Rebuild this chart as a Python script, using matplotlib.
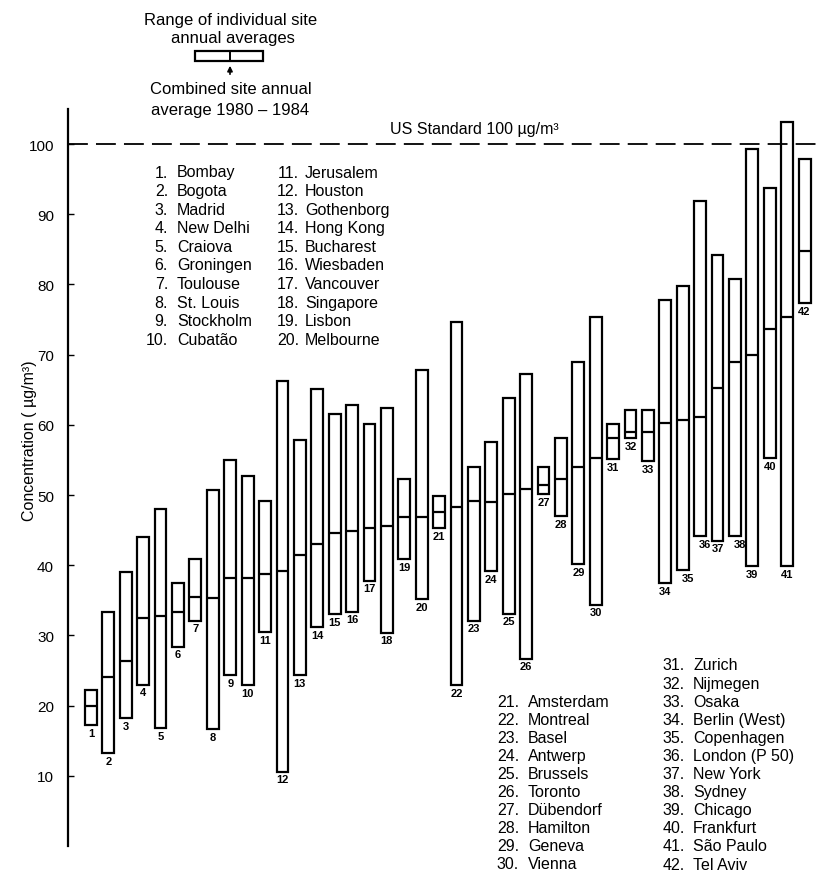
# -*- coding:utf-8 -*-
import matplotlib.pyplot as plt
import numpy as np

plt.rcParams['font.family'] = ['Liberation Sans', 'DejaVu Sans']

cities = ['Bombay', 'Bogota', 'Madrid', 'New Delhi', 'Craiova', 'Groningen',
          'Toulouse', 'St. Louis', 'Stockholm', 'Cubatão', 'Jerusalem',
          'Houston', 'Gothenborg', 'Hong Kong', 'Bucharest', 'Wiesbaden',
          'Vancouver', 'Singapore', 'Lisbon', 'Melbourne', 'Amsterdam',
          'Montreal', 'Basel', 'Antwerp', 'Brussels', 'Toronto', 'Dübendorf',
          'Hamilton', 'Geneva', 'Vienna', 'Zurich', 'Nijmegen', 'Osaka',
          'Berlin (West)', 'Copenhagen', 'London (P 50)', 'New York', 'Sydney',
          'Chicago', 'Frankfurt', 'São Paulo', 'Tel Aviv']

# lowest / combined / highest site annual averages, ug/m3
site_low = [17.2, 13.2, 18.2, 23.0, 16.8, 28.4, 32.1, 16.6, 24.3, 22.9,
            30.5, 10.6, 24.3, 31.2, 33.0, 33.4, 37.8, 30.4, 40.9, 35.2,
            45.3, 22.9, 32.1, 39.2, 33.1, 26.7, 50.1, 47.0, 40.2, 34.4,
            55.1, 58.1, 54.8, 37.4, 39.3, 44.2, 43.5, 44.2, 39.9, 55.3,
            39.9, 77.4]
site_mean = [20.0, 24.1, 26.3, 32.5, 32.7, 33.4, 35.5, 35.4, 38.2, 38.2,
             38.8, 39.2, 41.5, 43.0, 44.6, 44.9, 45.3, 45.6, 46.9, 46.9,
             47.6, 48.3, 49.1, 49.0, 50.1, 50.9, 51.4, 52.3, 54.0, 55.3,
             58.1, 59.0, 59.0, 60.2, 60.7, 61.1, 65.2, 68.9, 69.9, 73.6,
             75.3, 84.8]
site_high = [22.2, 33.4, 39.1, 44.0, 48.0, 37.4, 40.9, 50.7, 55.0, 52.7,
             49.1, 66.2, 57.8, 65.1, 61.6, 62.9, 60.1, 62.4, 52.3, 67.8,
             49.9, 74.7, 54.0, 57.5, 63.8, 67.3, 54.0, 58.2, 68.9, 75.3,
             60.1, 62.1, 62.1, 77.8, 79.8, 91.9, 84.2, 80.8, 99.3, 93.8,
             103.1, 97.9]
us_standard = 100

n = len(cities)
x = np.arange(1, n + 1)
low = np.array(site_low)
high = np.array(site_high)
mean = np.array(site_mean)
w = 0.68

fig = plt.figure(figsize=(8.22, 8.78), dpi=100)
ax = fig.add_axes([0.0827, 0.0353, 0.9173, 0.8394])

ax.bar(x, high - low, bottom=low, width=w, fill=False,
       edgecolor='black', linewidth=1.6)
ax.hlines(mean, x - w / 2, x + w / 2, color='black', linewidth=1.6)

for i in range(n):
    dx = 0.3 if i + 1 in (35, 36, 38) else 0
    ax.annotate(str(i + 1), (x[i] + dx, low[i]), xytext=(0, -2),
                textcoords='offset points', ha='center', va='top',
                fontsize=8, fontweight='bold')

ax.axhline(us_standard, color='black', linewidth=1.3, ls=(0, (11, 4.5)))
ax.text(23, us_standard + 1.2, 'US Standard 100 µg/m³', ha='center',
        va='bottom', fontsize=11.5)

ax.set_xlim(-0.32, 43.0)
ax.set_ylim(0, 105)
ax.set_yticks(np.arange(10, 101, 10))
ax.tick_params(axis='y', direction='in', length=4, width=1,
               labelsize=11, pad=10)
ax.set_xticks([])
for s in ['top', 'right', 'bottom']:
    ax.spines[s].set_visible(False)
ax.spines['left'].set_linewidth(1.6)
ax.set_ylabel('Concentration ( µg/m³)', fontsize=11.5)
ax.yaxis.set_label_coords(-0.041, 0.551)

# overlay in pixel units for the key and the list of cities
ov = fig.add_axes([0, 0, 1, 1], facecolor='none')
ov.set_xlim(0, 822)
ov.set_ylim(878, 0)
ov.axis('off')

ov.text(231, 20, 'Range of individual site', ha='center', va='center', fontsize=12)
ov.text(233, 38, 'annual averages', ha='center', va='center', fontsize=12)
ov.add_patch(plt.Rectangle((195, 52), 68, 10, fill=False, lw=1.6, ec='black'))
ov.plot([230, 230], [52, 62], color='black', lw=1.4)
ov.annotate('', xy=(230, 64), xytext=(230, 78),
            arrowprops=dict(arrowstyle='-|>,head_length=0.3,head_width=0.15',
                            color='black', lw=1.2))
ov.text(231, 90, 'Combined site annual', ha='center', va='center', fontsize=12)
ov.text(230, 110, 'average 1980 – 1984', ha='center', va='center', fontsize=12)

columns = [
    (range(0, 10), 168, 177, 173, 18.6),
    (range(10, 20), 299, 305, 173, 18.6),
    (range(20, 30), 519, 528, 703, 18.0),
    (range(30, 42), 685, 693, 666, 18.1),
]
for idx, xnum, xname, y0, dy in columns:
    for k, i in enumerate(idx):
        y = y0 + k * dy
        ov.text(xnum, y, '%d.' % (i + 1), ha='right', va='center', fontsize=11.5)
        ov.text(xname, y, cities[i], ha='left', va='center', fontsize=11.5)

fig.savefig('out.png', dpi=100)
